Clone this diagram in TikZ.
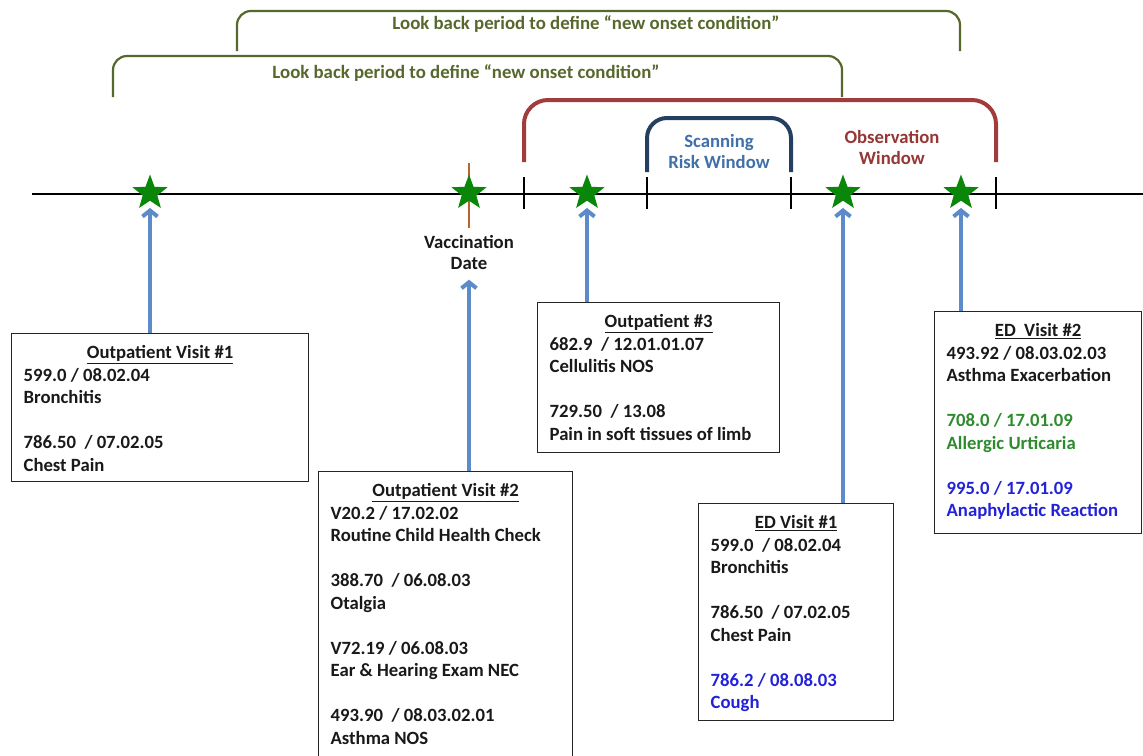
\documentclass[tikz,border=0pt]{standalone}
\usepackage{fontspec}
\setmainfont{Carlito}
\usetikzlibrary{shapes.geometric,arrows.meta}
\definecolor{cOlive}{HTML}{56682C}
\definecolor{cRedB}{HTML}{A23B3B}
\definecolor{cObs}{HTML}{953735}
\definecolor{cNavy}{HTML}{243F60}
\definecolor{cScan}{HTML}{4070A8}
\definecolor{cArrow}{HTML}{5B8BC8}
\definecolor{cStar}{HTML}{0A870A}
\definecolor{cVacc}{HTML}{B8642C}
\definecolor{cGreenT}{HTML}{2E8B2E}
\definecolor{cBlueT}{HTML}{2222D8}
\newcommand{\boxbody}[3]{\parbox[c][#2][t]{#1}{\raggedright\rule{0pt}{25pt}#3}}
\newcommand{\ttl}[1]{\makebox[\linewidth][c]{\underline{#1}}}
\tikzset{
  x=1pt, y=-1pt,
  visitbox/.style={draw=black!85, line width=1.3pt, inner xsep=12pt, inner ysep=0pt,
    anchor=north west, fill=white, text=black!90,
    font=\bfseries\fontsize{18.7}{22.5}\selectfont},
  starnode/.style={star, star points=5, star point ratio=2.4, minimum size=37pt,
    inner sep=0pt, fill=cStar, draw=none},
  arr/.style={draw=cArrow, line width=4pt, -{Straight Barb[length=6pt,width=15pt]}, shorten >=7pt},
  lbl/.style={font=\bfseries\fontsize{18.7}{21}\selectfont, align=center},
  lookback/.style={font=\bfseries\fontsize{18.8}{20}\selectfont, text=cOlive},
  tick/.style={line width=2pt, black},
}
\begin{document}
\begin{tikzpicture}
\useasboundingbox[fill=white] (0,0) rectangle (1143,755);

% look back brackets
\draw[cOlive, line width=2.2pt, rounded corners=14pt] (237,51) -- (237,11) -- (960,11) -- (960,51);
\draw[cOlive, line width=2.2pt, rounded corners=14pt] (113,97) -- (113,56) -- (842,56) -- (842,97);
\node[lookback] (lb1) at (586,24) {Look back period to define “new onset condition”};
\node[lookback] (lb2) at (466,73) {Look back period to define “new onset condition”};

% observation & scanning windows
\draw[cRedB, line width=4pt, rounded corners=24pt] (524,162) -- (524,100) -- (996,100) -- (996,162);
\draw[cNavy, line width=4pt, rounded corners=20pt] (647,172) -- (647,118) -- (791,118) -- (791,172);
\node[lbl, text=cScan] (srw) at (719,152) {Scanning\\Risk Window};
\node[lbl, text=cObs] (obs) at (892,147) {Observation\\Window};

% timeline
\draw[line width=2pt] (32,194) -- (1143,194);
\foreach \tx in {524,647,791,996} {\draw[tick] (\tx,177) -- (\tx,209);}
\draw[cVacc, line width=2pt] (469,163) -- (469,228);

% stars
\node[starnode] (s1) at (150,193) {};
\node[starnode] (s2) at (469,193) {};
\node[starnode] (s3) at (587,193) {};
\node[starnode] (s4) at (843,193) {};
\node[starnode] (s5) at (961,193) {};
\node[lbl, text=black!90] (vd) at (469,252) {Vaccination\\Date};

% boxes
\node[visitbox] (b1) at (11,333) {\boxbody{273pt}{148pt}{%
\ttl{Outpatient Visit \#1}\\
599.0 / 08.02.04\\
Bronchitis\\
\mbox{}\\
786.50\ \ / 07.02.05\\
Chest Pain}};

\node[visitbox] (b2) at (318,471) {\boxbody{230pt}{292pt}{%
\ttl{Outpatient Visit \#2}\\
V20.2 / 17.02.02\\
Routine Child Health Check\\
\mbox{}\\
388.70\ \ / 06.08.03\\
Otalgia\\
\mbox{}\\
V72.19 / 06.08.03\\
Ear \& Hearing Exam NEC\\
\mbox{}\\
493.90\ \ / 08.03.02.01\\
Asthma NOS}};

\node[visitbox] (b3) at (537,302) {\boxbody{218pt}{150pt}{%
\ttl{Outpatient \#3}\\
682.9\ \ / 12.01.01.07\\
Cellulitis NOS\\
\mbox{}\\
729.50\ \ / 13.08\\
Pain in soft tissues of limb}};

\node[visitbox] (b4) at (698,503) {\boxbody{171pt}{217pt}{%
\ttl{ED Visit \#1}\\
599.0\ \ / 08.02.04\\
Bronchitis\\
\mbox{}\\
786.50\ \ / 07.02.05\\
Chest Pain\\
\mbox{}\\
{\color{cBlueT}786.2 / 08.08.03}\\
{\color{cBlueT}Cough}}};

\node[visitbox] (b5) at (934,311) {\boxbody{183pt}{222pt}{%
\ttl{ED\ \ Visit \#2}\\
493.92\ / 08.03.02.03\\
Asthma Exacerbation\\
\mbox{}\\
{\color{cGreenT}708.0 / 17.01.09}\\
{\color{cGreenT}Allergic Urticaria}\\
\mbox{}\\
{\color{cBlueT}995.0 / 17.01.09}\\
{\color{cBlueT}Anaphylactic Reaction}}};

% arrows
\draw[arr] (b1.north -| s1.center) -- (s1.south);
\draw[arr] (b2.north -| vd.center) -- (vd.south);
\draw[arr] (b3.north -| s3.center) -- (s3.south);
\draw[arr] (b4.north -| s4.center) -- (s4.south);
\draw[arr] (b5.north -| s5.center) -- (s5.south);
\end{tikzpicture}
\end{document}
